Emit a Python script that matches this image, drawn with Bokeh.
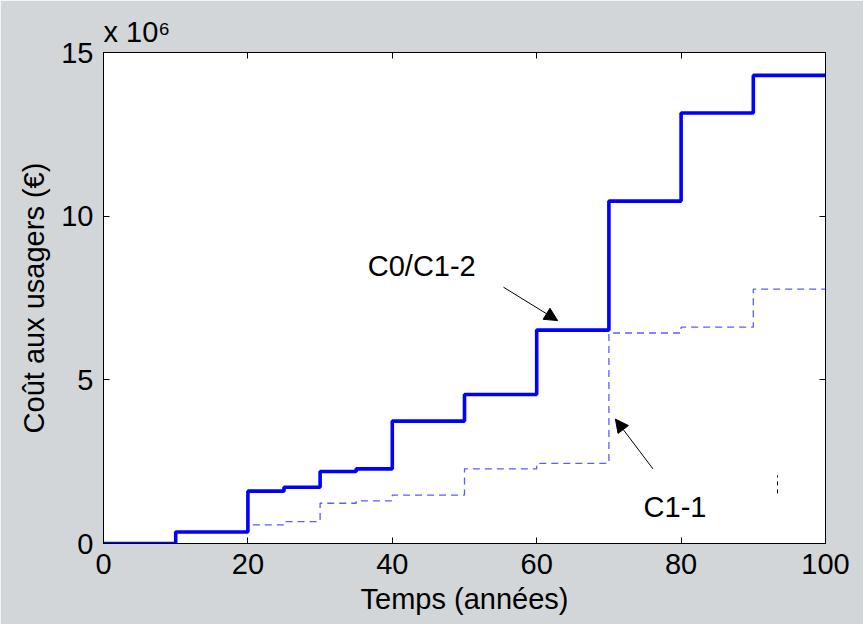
from bokeh.plotting import figure
from bokeh.models import Range1d, LinearAxis, FixedTicker, Arrow, NormalHead, Label
from bokeh.embed import file_html
from bokeh.resources import INLINE

# ---- data (cost in millions of euros) ----
years = [0, 10, 20, 25, 30, 35, 40, 50, 60, 70, 80, 90, 100]
cost_c0_c12 = [0.0, 0.35, 1.60, 1.72, 2.20, 2.28, 3.74, 4.55, 6.52, 10.46, 13.15, 14.30, 14.30]
cost_c11 = [0.0, 0.35, 0.57, 0.67, 1.23, 1.30, 1.48, 2.28, 2.45, 6.43, 6.61, 7.77, 7.77]
x_ticks = [0, 20, 40, 60, 80, 100]
y_ticks = [0, 5, 10, 15]
exponent_text = "x 10\u2076"

# annotation anchors (data units)
lbl_c0 = ("C0/C1-2", 36.6, 8.47)
arr_c0 = (55.4, 7.83, 62.9, 6.81)
lbl_c11 = ("C1-1", 74.8, 1.11)
arr_c11 = (76.1, 2.28, 70.9, 3.80)
glitch = (93.35, 1.53, 2.08)

FONT = "Liberation Sans"
FS = "29px"
BG = "#d2d6d9"

p = figure(width=863, height=624, x_range=Range1d(0, 100), y_range=Range1d(0, 15),
           output_backend="svg", toolbar_location=None,
           x_axis_label="Temps (années)", y_axis_label="Coût aux usagers (€)")
p.min_border_left = 103
p.min_border_right = 38
p.min_border_top = 52
p.min_border_bottom = 81
p.background_fill_color = "white"
p.border_fill_color = BG
p.outline_line_color = "black"
p.grid.visible = False

p.title.text = exponent_text
p.title.align = "left"
p.title.text_font = FONT
p.title.text_font_size = FS
p.title.text_font_style = "normal"
p.title.text_color = "black"
p.title.standoff = 9


def style(ax, ticks, show_labels=True):
    ax.ticker = FixedTicker(ticks=ticks)
    ax.major_tick_in = 6
    ax.major_tick_out = 0
    ax.minor_tick_in = 0
    ax.minor_tick_out = 0
    ax.axis_line_color = "black"
    ax.major_tick_line_color = "black"
    ax.major_label_text_font = FONT
    ax.major_label_text_color = "black"
    ax.major_label_text_font_size = FS
    ax.axis_label_text_font = FONT
    ax.axis_label_text_font_size = FS
    ax.axis_label_text_font_style = "normal"
    ax.axis_label_text_color = "black"
    if not show_labels:
        ax.major_label_overrides = {t: "" for t in ticks}
        ax.major_label_standoff = 0


style(p.xaxis[0], x_ticks)
style(p.yaxis[0], y_ticks)
p.xaxis[0].major_label_standoff = 10
p.xaxis[0].axis_label_standoff = 6
p.yaxis[0].major_label_standoff = 10
p.yaxis[0].axis_label_standoff = 8

top = LinearAxis()
style(top, x_ticks, False)
p.add_layout(top, "above")
right = LinearAxis()
style(right, y_ticks, False)
p.add_layout(right, "right")

# ---- series ----
p.step(years, cost_c11, mode="after", line_color="#5c5cff", line_width=1.3, line_dash="7 5")
p.step(years, cost_c0_c12, mode="after", line_color="#0000ff", line_width=3.6)

p.segment(x0=[glitch[0]], y0=[glitch[1]], x1=[glitch[0]], y1=[glitch[2]],
          line_color="black", line_width=1, line_dash="4 4")

# ---- annotations ----
for txt, x, y in (lbl_c0, lbl_c11):
    p.add_layout(Label(x=x, y=y, text=txt, text_font=FONT, text_font_size=FS,
                       text_color="black", text_baseline="alphabetic", text_align="left"))
for (xs, ys, xe, ye) in (arr_c0, arr_c11):
    p.add_layout(Arrow(x_start=xs, y_start=ys, x_end=xe, y_end=ye, line_color="black",
                       line_width=1,
                       end=NormalHead(size=13, fill_color="black", line_color="black")))

open("out.html", "w").write(file_html(p, INLINE))
